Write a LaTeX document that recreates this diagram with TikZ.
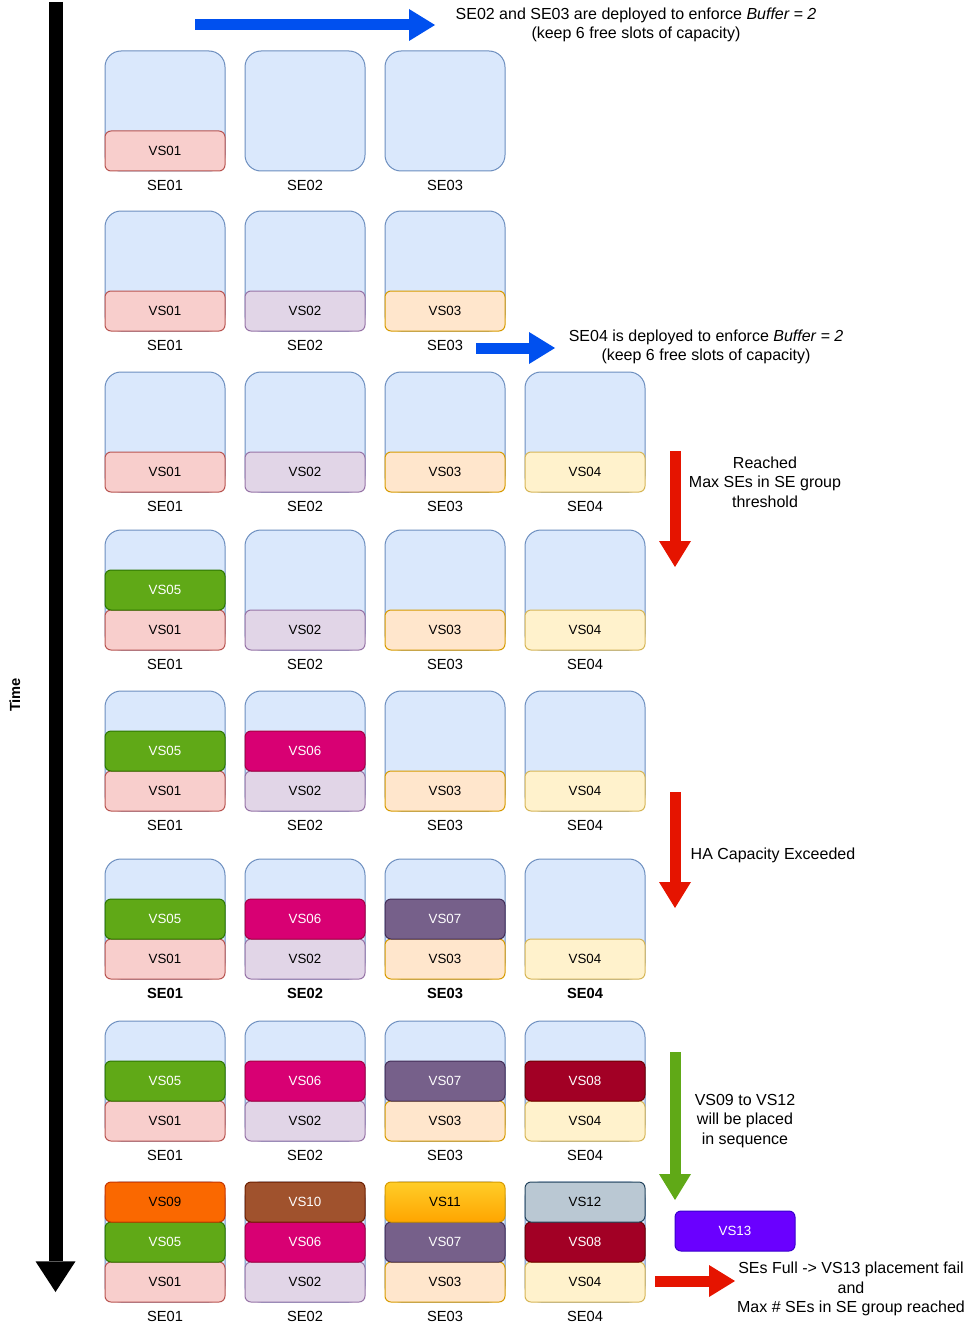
\documentclass[tikz,border=0pt]{standalone}
\usepackage{fontspec}
\setmainfont{Liberation Sans}
\usetikzlibrary{positioning,arrows.meta}

\definecolor{sefill}{HTML}{DAE8FC}
\definecolor{seline}{HTML}{6C8EBF}
\definecolor{blockblue}{HTML}{0050EF}
\definecolor{blockred}{HTML}{E51400}
\definecolor{blockgreen}{HTML}{60A917}

\begin{document}
\begin{tikzpicture}[x=0.75pt, y=-0.75pt,
    se/.style={draw=seline, fill=sefill, line width=0.75pt, rounded corners=12pt,
        minimum width=90pt, minimum height=90pt, inner sep=0pt},
    selabel/.style={font=\fontsize{11}{13}\selectfont},
    selabelbold/.style={font=\fontsize{11}{13}\selectfont\bfseries},
    vs/.style={line width=0.75pt, rounded corners=4.5pt, minimum width=90pt,
        minimum height=30pt, inner sep=0pt, anchor=south, font=\fontsize{10}{12}\selectfont},
    vs01/.style={vs, fill={rgb,255:red,248;green,206;blue,204}, draw={rgb,255:red,184;green,84;blue,80}},
    vs02/.style={vs, fill={rgb,255:red,225;green,213;blue,231}, draw={rgb,255:red,150;green,115;blue,166}},
    vs03/.style={vs, fill={rgb,255:red,255;green,230;blue,204}, draw={rgb,255:red,215;green,155;blue,0}},
    vs04/.style={vs, fill={rgb,255:red,255;green,242;blue,204}, draw={rgb,255:red,214;green,182;blue,86}},
    vs05/.style={vs, fill={rgb,255:red,96;green,169;blue,23}, draw={rgb,255:red,45;green,118;blue,0}, text=white},
    vs06/.style={vs, fill={rgb,255:red,216;green,0;blue,115}, draw={rgb,255:red,165;green,0;blue,64}, text=white},
    vs07/.style={vs, fill={rgb,255:red,118;green,96;blue,138}, draw={rgb,255:red,67;green,45;blue,87}, text=white},
    vs08/.style={vs, fill={rgb,255:red,162;green,0;blue,37}, draw={rgb,255:red,111;green,0;blue,0}, text=white},
    vs09/.style={vs, fill={rgb,255:red,250;green,104;blue,0}, draw={rgb,255:red,199;green,53;blue,0}},
    vs10/.style={vs, fill={rgb,255:red,160;green,82;blue,45}, draw={rgb,255:red,109;green,31;blue,0}, text=white},
    vs11/.style={vs, top color={rgb,255:red,255;green,205;blue,40}, bottom color={rgb,255:red,255;green,165;blue,0}, draw={rgb,255:red,215;green,155;blue,0}},
    vs12/.style={vs, fill={rgb,255:red,186;green,200;blue,211}, draw={rgb,255:red,35;green,68;blue,93}},
    vs13/.style={vs, fill={rgb,255:red,106;green,0;blue,255}, draw={rgb,255:red,55;green,0;blue,204}, text=white},
    note/.style={align=center, font=\fontsize{12}{14.5}\selectfont},
    blockarrow/.style={line width=8.25pt, -{Triangle[width=24pt,length=19.5pt,line width=0pt]}},
]
    \useasboundingbox (0,0) rectangle (977,1334);

    % time axis
    \coordinate (time top) at (55.5,2);
    \coordinate (time end) at (55.5,1292);
    \draw[line width=10.5pt, -{Triangle[width=30pt,length=23pt,line width=0pt]}] (time top) -- (time end);
    \node[rotate=90, font=\fontsize{11}{13}\selectfont\bfseries] (time) at (15,695) {Time};

    % service engines, one row per step
    \foreach \r/\top/\n/\lab in {1/51/3/selabel, 2/211/3/selabel, 3/372/4/selabel, 4/530/4/selabel,
            5/691/4/selabel, 6/859/4/selabelbold, 7/1021/4/selabel, 8/1182/4/selabel}{
        \foreach \c in {1,...,\n}{
            \node[se] (se\r\c) at ({25+140*\c},{\top+60}) {};
            \node[\lab] (lab\r\c) at ({25+140*\c},{\top+134.5}) {SE0\c};
        }
    }

    % virtual services: row/col/slot/vs
    \foreach \r/\c/\k/\v in {1/1/1/01,
            2/1/1/01, 2/2/1/02, 2/3/1/03,
            3/1/1/01, 3/2/1/02, 3/3/1/03, 3/4/1/04,
            4/1/1/01, 4/1/2/05, 4/2/1/02, 4/3/1/03, 4/4/1/04,
            5/1/1/01, 5/1/2/05, 5/2/1/02, 5/2/2/06, 5/3/1/03, 5/4/1/04,
            6/1/1/01, 6/1/2/05, 6/2/1/02, 6/2/2/06, 6/3/1/03, 6/3/2/07, 6/4/1/04,
            7/1/1/01, 7/1/2/05, 7/2/1/02, 7/2/2/06, 7/3/1/03, 7/3/2/07, 7/4/1/04, 7/4/2/08,
            8/1/1/01, 8/1/2/05, 8/1/3/09, 8/2/1/02, 8/2/2/06, 8/2/3/10,
            8/3/1/03, 8/3/2/07, 8/3/3/11, 8/4/1/04, 8/4/2/08, 8/4/3/12}{
        \node[vs\v] (vs\r\c\k) at ([yshift={(\k-1)*30pt}]se\r\c.south) {VS\v};
    }
    \node[vs13, anchor=center] (vs13) at (735,1231) {VS13};

    % notes
    \node[note] (buffer two) at (636,25) {SE02 and SE03 are deployed to enforce \textit{Buffer = 2}\\(keep 6 free slots of capacity)};
    \node[note] (buffer four) at (706,347) {SE04 is deployed to enforce \textit{Buffer = 2}\\(keep 6 free slots of capacity)};
    \node[note] (max group) at (765,482) {Reached\\Max SEs in SE group\\threshold};
    \node[note, anchor=west] (ha cap) at (686,855) {HA Capacity Exceeded};
    \node[note] (in seq) at (745,1121) {VS09 to VS12\\will be placed\\in sequence};
    \node[note] (full) at (851,1289) {SEs Full -> VS13 placement fail\\and\\Max \# SEs in SE group reached};

    % block arrows
    \coordinate (b1s) at (195,25);
    \coordinate (b1e) at (435,25);
    \coordinate (b2s) at (476,348);
    \coordinate (b2e) at (555,348);
    \coordinate (r1s) at (675,451);
    \coordinate (r1e) at (675,567);
    \coordinate (r2s) at (675,792);
    \coordinate (r2e) at (675,908);
    \coordinate (g1s) at (675,1052);
    \coordinate (g1e) at (675,1200);
    \coordinate (r3s) at (655,1281);
    \coordinate (r3e) at (735,1281);
    \draw[blockarrow, blockblue] (b1s) -- (b1e);
    \draw[blockarrow, blockblue] (b2s) -- (b2e);
    \draw[blockarrow, blockred] (r1s) -- (r1e);
    \draw[blockarrow, blockred] (r2s) -- (r2e);
    \draw[blockarrow, blockgreen] (g1s) -- (g1e);
    \draw[blockarrow, blockred] (r3s) -- (r3e);
\end{tikzpicture}
\end{document}
